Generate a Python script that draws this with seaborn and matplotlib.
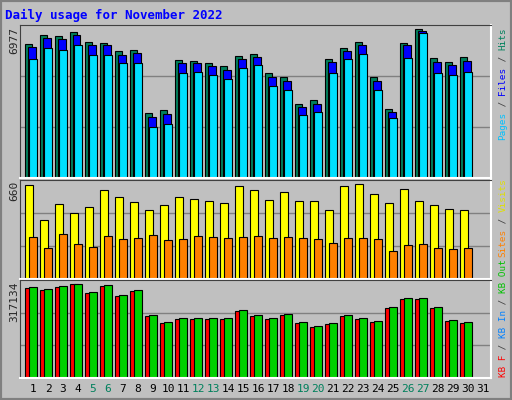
import matplotlib
matplotlib.use("Agg")
import matplotlib.pyplot as plt
import seaborn as sns
import numpy as np
from matplotlib.patches import Rectangle

sns.set_style("white")
plt.rcParams['font.family'] = ['DejaVu Sans Mono']

days = list(range(1, 32))
day_labels = [str(d) for d in days]
weekends = [5, 6, 12, 13, 19, 20, 26, 27]

hits = [6263, 6685, 6639, 6826, 6357, 6310, 5935, 5982, 3044, 3185, 5513, 5466, 5372, 5232, 5701, 5794, 4903, 4716, 3466, 3653, 5560, 6076, 6357, 4716, 3216, 6310, 6977, 5607, 5419, 5654]
files = [6122, 6544, 6498, 6685, 6216, 6216, 5747, 5841, 2857, 2998, 5372, 5372, 5232, 5044, 5560, 5654, 4716, 4528, 3325, 3466, 5419, 5935, 6216, 4528, 3091, 6216, 6873, 5419, 5279, 5466]
pages = [5560, 6076, 5982, 6216, 5747, 5747, 5372, 5372, 2391, 2529, 4903, 4950, 4809, 4622, 5138, 5279, 4294, 4107, 2951, 3091, 4903, 5560, 5794, 4107, 2810, 5607, 6789, 4903, 4809, 4950]
visits = [653, 410, 521, 458, 500, 618, 569, 535, 479, 514, 569, 556, 542, 528, 646, 618, 549, 604, 542, 542, 479, 646, 660, 590, 528, 625, 542, 514, 486, 479]
sites = [292, 215, 313, 243, 222, 299, 278, 285, 306, 271, 278, 299, 292, 285, 292, 299, 285, 292, 285, 278, 250, 285, 285, 278, 194, 236, 243, 215, 208, 215]
kbin = [307012, 300265, 310386, 317134, 290143, 313760, 280022, 296891, 212547, 188929, 202424, 202424, 202424, 202424, 229415, 212547, 202424, 215920, 188929, 175433, 185555, 212547, 202424, 192302, 239536, 269900, 269900, 239536, 195676, 188929]
kbf = [305000, 298000, 308000, 316000, 288000, 312000, 278000, 295000, 210000, 185000, 199000, 200000, 200000, 200000, 227000, 210000, 200000, 213000, 186000, 172000, 182000, 209000, 200000, 190000, 237000, 266000, 268000, 237000, 193000, 186000]

W, H = 512, 400
fig = plt.figure(figsize=(W/100, H/100), dpi=100)
fig.patch.set_facecolor('#c0c0c0')
fig.patches.append(Rectangle((0, 0), 1, 1, transform=fig.transFigure, fill=False,
                             edgecolor='#808080', lw=3))

def axes_px(x0, y0, x1, y1):
    return fig.add_axes([x0/W, 1 - y1/H, (x1-x0)/W, (y1-y0)/H])

x0, x1 = 20, 491
ax1 = axes_px(x0, 25, x1, 178)
ax2 = axes_px(x0, 180, x1, 279)
ax3 = axes_px(x0, 280, x1, 378)

unit = (x1 - x0) / 15.0
xl = (1 - 13/15, 1 - 13/15 + unit)
px = 1/15
d = np.array(days[:30])

def style(ax, top):
    ax.set_facecolor('#c0c0c0')
    ax.set_xlim(*xl)
    ax.set_ylim(0, top)
    for k in (1, 2):
        ax.axhline(top*k/3, color='#808080', lw=1, zorder=0)
    ax.set_yticks([])
    ax.set_xticks([])
    for s in ('left', 'top'):
        ax.spines[s].set_color('#404040')
    for s in ('right', 'bottom'):
        ax.spines[s].set_color('white')
        ax.spines[s].set_linewidth(1.5)

kw = dict(edgecolor='black', linewidth=0.8, align='edge')
top1 = 6977*153/149
style(ax1, top1)
ax1.bar(d - 8*px, hits, width=7*px, color='#00805c', **kw)
ax1.bar(d - 5.5*px, files, width=8*px, color='#0000ff', **kw)
ax1.bar(d - 4*px, pages, width=8*px, color='#00e0ff', **kw)

top2 = 660*99/95
style(ax2, top2)
ax2.bar(d - 8*px, visits, width=8*px, color='#ffff00', **kw)
ax2.bar(d - 4*px, sites, width=8*px, color='#ff8000', **kw)

top3 = 317134*98/94
style(ax3, top3)
ax3.bar(d - 8*px, kbf, width=8*px, color='#ff0000', **kw)
ax3.bar(d - 4*px, kbin, width=8*px, color='#00d000', **kw)

for dd, lab in zip(days, day_labels):
    xp = x0 + (dd - xl[0]) * 15
    fig.text(xp/W, 1 - 389/H, lab, ha='center', va='center', fontsize=8,
             color='#00805c' if dd in weekends else 'black')

fig.text(5/W, 1 - 15/H, 'Daily usage for November 2022', fontsize=9, fontweight='bold',
         color='#0000ff', va='center', ha='left')

for txt, ytop in (('6977', 27), ('660', 181), ('317134', 282)):
    fig.text(14/W, 1 - ytop/H, txt, rotation=90, fontsize=8, ha='center', va='top')

def legend(pieces, ybottom):
    y = ybottom
    for t, c in pieces:
        fig.text(503/W, 1 - y/H, t, rotation=90, fontsize=6.7, color=c,
                 ha='center', va='bottom')
        y -= len(t) * 5.6

g = '#404040'
legend([('Pages', '#00c0ff'), (' / ', g), ('Files', '#0000ff'), (' / ', g), ('Hits', '#00805c')], 140)
legend([('Sites', '#ff8000'), (' / ', g), ('Visits', '#e0e000')], 257)
legend([('KB F', '#ff0000'), (' / ', g), ('KB In', '#0080ff'), (' / ', g), ('KB Out', '#00c000')], 377)

fig.savefig('out.png', dpi=100, facecolor=fig.get_facecolor())
